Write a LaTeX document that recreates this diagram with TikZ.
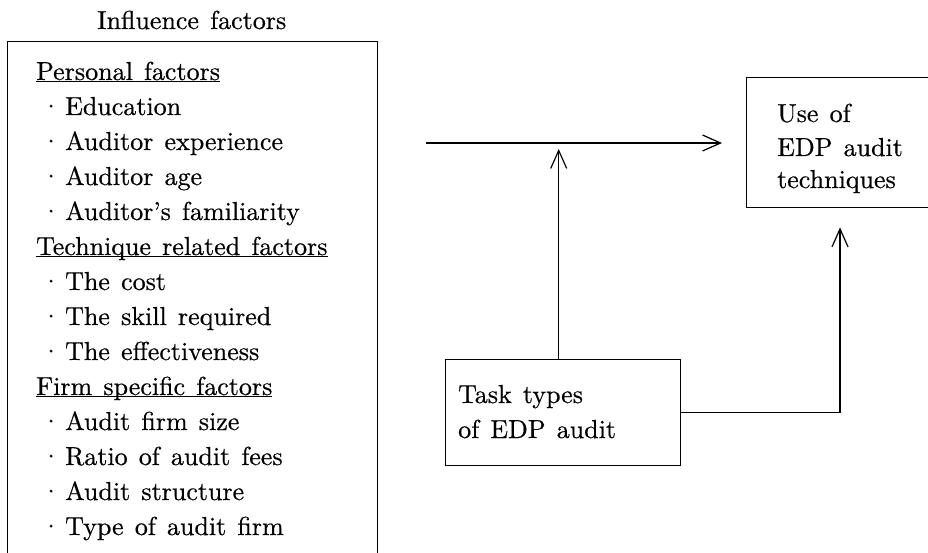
\documentclass[tikz,border=0pt]{standalone}
\usepackage{fontspec}
\newfontfamily\tenrm{lmroman10-regular.otf}[FakeBold=0.5]
\usetikzlibrary{arrows.meta}
\newcommand{\myfnt}{\tenrm\fontsize{26}{31}\selectfont\spaceskip=0.43em plus 0.1em minus 0.05em\relax}
\newcommand{\bul}{\llap{\textperiodcentered\hspace{4pt}}}
\newcommand{\ul}[1]{\underline{\smash{#1}}}
\begin{document}
\begin{tikzpicture}[x=1pt,y=-1pt,
  box/.style={draw, line width=1.4pt, rectangle, inner sep=0pt, anchor=north west},
  txt/.style={anchor=base west, inner sep=0pt, font=\myfnt},
  arr/.style={line width=1.2pt, -{Straight Barb[length=18pt,width=16pt,line width=1.2pt]}}]
\useasboundingbox (0,0) rectangle (928,553);
\clip (0,0) rectangle (928,553);
\fill[white] (0,0) rectangle (928,553);
% boxes
\node[box, minimum width=370pt, minimum height=560pt] (infl) at (7,41) {};
\node[box, minimum width=220pt, minimum height=130pt] (use) at (746,77) {};
\node[box, minimum width=235pt, minimum height=106pt] (task) at (445,359) {};
% title
\node[txt] (title) at (97,29) {Influence factors};
% left texts
\node[txt] (h1) at (36,80) {\ul{Personal factors}};
\node[txt] (p1) at (65,115) {\bul Education};
\node[txt] (p2) at (65,150) {\bul Auditor experience};
\node[txt] (p3) at (65,185) {\bul Auditor age};
\node[txt] (p4) at (65,220) {\bul Auditor’s familiarity};
\node[txt] (h2) at (36,255) {\ul{Technique related factors}};
\node[txt] (t1) at (65,290) {\bul The cost};
\node[txt] (t2) at (65,325) {\bul The skill required};
\node[txt] (t3) at (65,360) {\bul The effectiveness};
\node[txt] (h3) at (36,395) {\ul{Firm specific factors}};
\node[txt] (f1) at (65,430) {\bul Audit firm size};
\node[txt] (f2) at (65,465) {\bul Ratio of audit fees};
\node[txt] (f3) at (65,500) {\bul Audit structure};
\node[txt] (f4) at (65,535) {\bul Type of audit firm};
% right box texts
\node[txt] (u1) at (777,122) {Use of};
\node[txt] (u2) at (777,156) {EDP audit};
\node[txt] (u3) at (777,188) {techniques};
% task texts
\node[txt] (k1) at (458,403) {Task types};
\node[txt] (k2) at (458,438) {of EDP audit};
% connectors
\coordinate (hstart) at (426,143);
\draw[arr, shorten >=24pt] (hstart) -- (hstart -| use.west);
\draw[arr, shorten >=6pt] ([xshift=-4.5pt]task.north) -- ([xshift=-4.5pt]task.north |- hstart);
\draw[arr, shorten >=19pt] (task.east) -| (use.south -| 840,0);
\end{tikzpicture}
\end{document}
